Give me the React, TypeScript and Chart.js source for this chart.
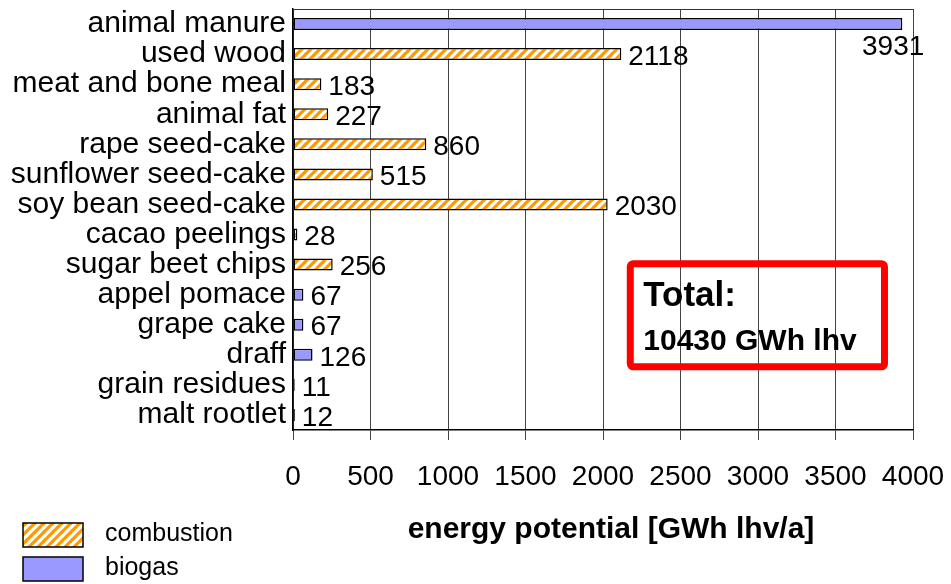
import React, { useEffect, useRef } from 'react';
import { Chart, registerables } from 'chart.js';

Chart.register(...registerables);

const categories = [
  'animal manure',
  'used wood',
  'meat and bone meal',
  'animal fat',
  'rape seed-cake',
  'sunflower seed-cake',
  'soy bean seed-cake',
  'cacao peelings',
  'sugar beet chips',
  'appel pomace',
  'grape cake',
  'draff',
  'grain residues',
  'malt rootlet',
];
const combustion = [null, 2118, 183, 227, 860, 515, 2030, 28, 256, null, null, null, null, null];
const biogas = [3931, null, null, null, null, null, null, null, null, 67, 67, 126, 11, 12];
const xTicks = [0, 500, 1000, 1500, 2000, 2500, 3000, 3500, 4000];
const seriesNames = ['combustion', 'biogas'];
const axisTitle = 'energy potential [GWh lhv/a]';
const totalLines = ['Total:', '10430 GWh lhv'];

const FONT = "'Liberation Sans', Arial, sans-serif";
const ORANGE = '#FF9900';
const BLUE = '#9999FF';

function makePattern(): CanvasPattern | string {
  const s = 9;
  const c = document.createElement('canvas');
  c.width = s;
  c.height = s;
  const g = c.getContext('2d');
  if (!g) return ORANGE;
  g.fillStyle = '#fff';
  g.fillRect(0, 0, s, s);
  g.strokeStyle = ORANGE;
  g.lineWidth = 3.2;
  g.lineCap = 'square';
  for (const o of [-s, 0, s]) {
    g.beginPath();
    g.moveTo(o, s);
    g.lineTo(o + s, 0);
    g.stroke();
  }
  const p = g.createPattern(c, 'repeat');
  return p || ORANGE;
}

export default function App() {
  const ref = useRef<HTMLCanvasElement>(null);

  useEffect(() => {
    document.body.style.margin = '0';
    const canvas = ref.current;
    if (!canvas) return;
    const pattern = makePattern();

    const extras = {
      id: 'extras',
      afterDatasetsDraw(chart: any) {
        const ctx = chart.ctx as CanvasRenderingContext2D;
        const area = chart.chartArea;
        ctx.save();
        // top border of plot
        ctx.strokeStyle = '#333';
        ctx.lineWidth = 1;
        ctx.beginPath();
        ctx.moveTo(area.left, area.top + 0.5);
        ctx.lineTo(area.right, area.top + 0.5);
        ctx.stroke();

        // value labels
        ctx.font = `28px ${FONT}`;
        ctx.fillStyle = '#000';
        ctx.textBaseline = 'middle';
        chart.data.datasets.forEach((ds: any, di: number) => {
          const meta = chart.getDatasetMeta(di);
          meta.data.forEach((el: any, i: number) => {
            const v = ds.data[i];
            if (v === null || v === undefined) return;
            const txt = String(v);
            const w = ctx.measureText(txt).width;
            let x = el.x + 7;
            let y = el.y + 3;
            if (x + w > chart.width) {
              ctx.textAlign = 'right';
              x = el.x + 22;
              y = el.y + 23;
            } else {
              ctx.textAlign = 'left';
            }
            ctx.fillText(txt, x, y);
          });
        });
        ctx.restore();
      },
      afterDraw(chart: any) {
        const ctx = chart.ctx as CanvasRenderingContext2D;
        const area = chart.chartArea;
        ctx.save();
        // axis title
        ctx.font = `bold 30px ${FONT}`;
        ctx.fillStyle = '#000';
        ctx.textAlign = 'center';
        ctx.textBaseline = 'alphabetic';
        ctx.fillText(axisTitle, (area.left + area.right) / 2 + 8, area.bottom + 108);

        // legend
        const fills = [pattern, BLUE];
        seriesNames.forEach((name, i) => {
          const bx = 23;
          const by = 523 + i * 34;
          ctx.fillStyle = fills[i] as any;
          ctx.fillRect(bx, by, 60, 24);
          ctx.strokeStyle = '#000';
          ctx.lineWidth = 1.5;
          ctx.strokeRect(bx, by, 60, 24);
          ctx.fillStyle = '#000';
          ctx.font = `25px ${FONT}`;
          ctx.textAlign = 'left';
          ctx.textBaseline = 'middle';
          ctx.fillText(name, 105, by + 11);
        });

        // total box
        const w = area.right - area.left;
        const h = area.bottom - area.top;
        const L = area.left + w * 0.544;
        const R = area.left + w * 0.954;
        const T = area.top + h * 0.605;
        const B = area.top + h * 0.85;
        ctx.strokeStyle = '#FF0000';
        ctx.lineWidth = 7;
        ctx.lineJoin = 'round';
        ctx.beginPath();
        (ctx as any).roundRect ? (ctx as any).roundRect(L, T, R - L, B - T, 3) : ctx.rect(L, T, R - L, B - T);
        ctx.stroke();
        ctx.fillStyle = '#000';
        ctx.textAlign = 'left';
        ctx.textBaseline = 'alphabetic';
        ctx.font = `bold 35px ${FONT}`;
        ctx.fillText(totalLines[0], L + 13, T + 42);
        ctx.font = `bold 30px ${FONT}`;
        ctx.fillText(totalLines[1], L + 13, T + 86);
        ctx.restore();
      },
    };

    const chart = new Chart(canvas, {
      type: 'bar',
      data: {
        labels: categories,
        datasets: [
          {
            label: seriesNames[0],
            data: combustion as any,
            backgroundColor: pattern as any,
            borderColor: '#000',
            borderWidth: 1.5,
            borderSkipped: false,
            barPercentage: 0.4,
            categoryPercentage: 1,
          },
          {
            label: seriesNames[1],
            data: biogas as any,
            backgroundColor: BLUE,
            borderColor: '#000',
            borderWidth: 1.5,
            borderSkipped: false,
            barPercentage: 0.4,
            categoryPercentage: 1,
          },
        ],
      },
      options: {
        indexAxis: 'y',
        animation: false,
        responsive: true,
        maintainAspectRatio: false,
        layout: { padding: { top: 9, right: 38, left: 0, bottom: 0 } },
        plugins: {
          legend: { display: false },
          tooltip: { enabled: false },
          title: { display: false },
        },
        scales: {
          x: {
            stacked: true,
            min: 0,
            max: 4000,
            afterBuildTicks: (s: any) => {
              s.ticks = xTicks.map((v) => ({ value: v }));
            },
            afterFit: (s: any) => {
              s.height = 154;
              s.paddingLeft = 0;
              s.paddingRight = 0;
            },
            grid: {
              color: '#444',
              lineWidth: 1,
              tickLength: 10,
              tickColor: '#444',
            },
            border: { display: true, color: '#000', width: 1.5 },
            ticks: {
              color: '#000',
              font: { family: FONT, size: 28 },
              padding: 20,
              maxRotation: 0,
              autoSkip: false,
              callback: (v: any) => String(v),
            },
          },
          y: {
            stacked: true,
            afterFit: (s: any) => {
              s.width = 293;
              s.paddingTop = 0;
              s.paddingBottom = 0;
            },
            grid: { display: true, drawOnChartArea: false, drawTicks: false, color: 'rgba(0,0,0,0)' },
            border: { display: true, color: '#000', width: 1.5 },
            ticks: {
              color: '#000',
              font: { family: FONT, size: 30 },
              padding: 7,
              autoSkip: false,
            },
          },
        },
      },
      plugins: [extras],
    });

    return () => chart.destroy();
  }, []);

  return (
    <div style={{ width: 951, height: 584, position: 'relative' }}>
      <canvas ref={ref} />
    </div>
  );
}
